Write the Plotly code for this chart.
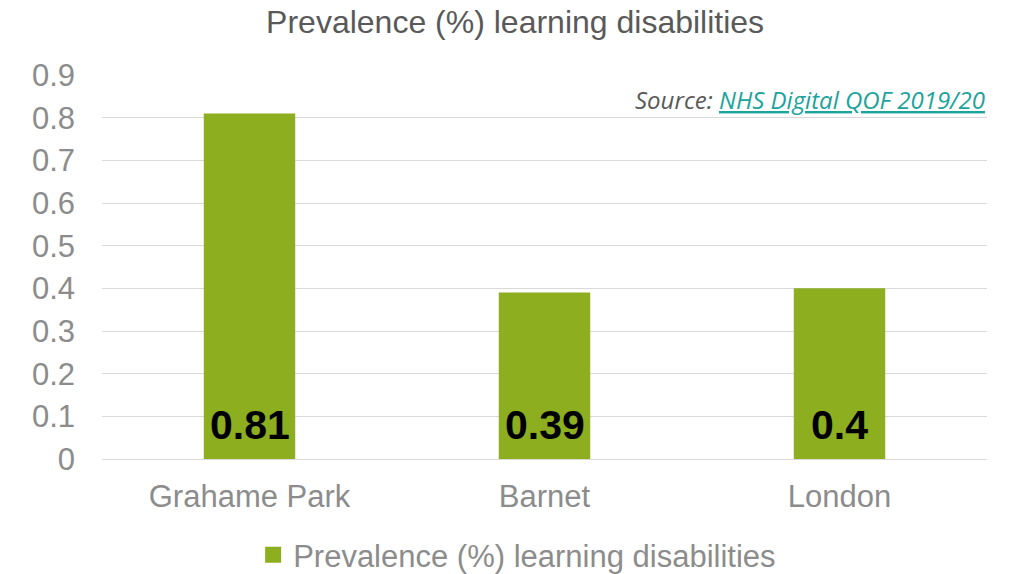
import plotly.graph_objects as go

# Prevalence of learning disabilities by area (QOF 2019/20)
areas = ["Grahame Park", "Barnet", "London"]
prevalence = [0.81, 0.39, 0.4]
series_name = "Prevalence (%) learning disabilities"
y_ticks = [0, 0.1, 0.2, 0.3, 0.4, 0.5, 0.6, 0.7, 0.8, 0.9]
y_tick_text = ["0", "0.1", "0.2", "0.3", "0.4", "0.5", "0.6", "0.7", "0.8", "0.9"]

BAR_GREEN = "#8DAE1F"
GRID = "#D9D9D9"
TICK_GREY = "#8C8C8C"
FONT = "Liberation Sans, Arial, sans-serif"

fig = go.Figure()
fig.add_trace(
    go.Bar(
        x=areas,
        y=prevalence,
        name=series_name,
        legendgroup="prev",
        marker=dict(color=BAR_GREEN, line=dict(width=0)),
        width=0.31,
        showlegend=False,
    )
)
# legend key: a larger square swatch than the default bar key
fig.add_trace(
    go.Scatter(
        x=[None],
        y=[None],
        mode="markers",
        name=series_name,
        legendgroup="prev",
        marker=dict(symbol="square", size=17, color=BAR_GREEN),
        showlegend=True,
        hoverinfo="skip",
    )
)

# value labels sit near the base of each bar
value_labels = [
    dict(
        x=area,
        y=0,
        xref="x",
        yref="y",
        text=f"<b>{v:g}</b>",
        showarrow=False,
        xanchor="center",
        yanchor="bottom",
        yshift=9,
        font=dict(family=FONT, size=41, color="black"),
    )
    for area, v in zip(areas, prevalence)
]

source_note = dict(
    text=("<i>Source: <a href='https://digital.nhs.uk/data-and-information/publications/statistical/"
          "quality-and-outcomes-framework-achievement-prevalence-and-exceptions-data/2019-20'"
          " style='color:#1BA39C'><u>NHS Digital QOF 2019/20</u></a></i>"),
    xref="paper",
    yref="paper",
    x=1.0,
    y=0.935,
    xanchor="right",
    yanchor="middle",
    showarrow=False,
    font=dict(family="Open Sans, Noto Sans, sans-serif", size=24, color="#595959"),
)

fig.update_layout(
    width=1014,
    height=574,
    margin=dict(l=102, r=27, t=75, b=115),
    paper_bgcolor="white",
    plot_bgcolor="white",
    font=dict(family=FONT, color=TICK_GREY),
    title=dict(
        text="Prevalence (%) learning disabilities",
        x=0.508,
        xanchor="center",
        y=0.962,
        yanchor="middle",
        font=dict(size=32, color="#595959"),
    ),
    yaxis=dict(
        range=[0, 0.9],
        tickmode="array",
        tickvals=y_ticks,
        ticktext=y_tick_text,
        tickfont=dict(size=31, color=TICK_GREY),
        showgrid=True,
        gridcolor=GRID,
        gridwidth=1,
        zeroline=True,
        zerolinecolor=GRID,
        zerolinewidth=1,
        showline=False,
        ticks="",
        ticklabelstandoff=26,
        fixedrange=True,
    ),
    xaxis=dict(
        tickfont=dict(size=31, color=TICK_GREY),
        showline=False,
        ticks="",
        ticklabelstandoff=16,
        showgrid=False,
    ),
    legend=dict(
        orientation="h",
        xref="container",
        yref="container",
        x=0.51,
        xanchor="center",
        y=0.033,
        yanchor="middle",
        font=dict(size=31, color=TICK_GREY),
        itemwidth=30,
    ),
    annotations=value_labels + [source_note],
)

fig.write_html("out.html")
